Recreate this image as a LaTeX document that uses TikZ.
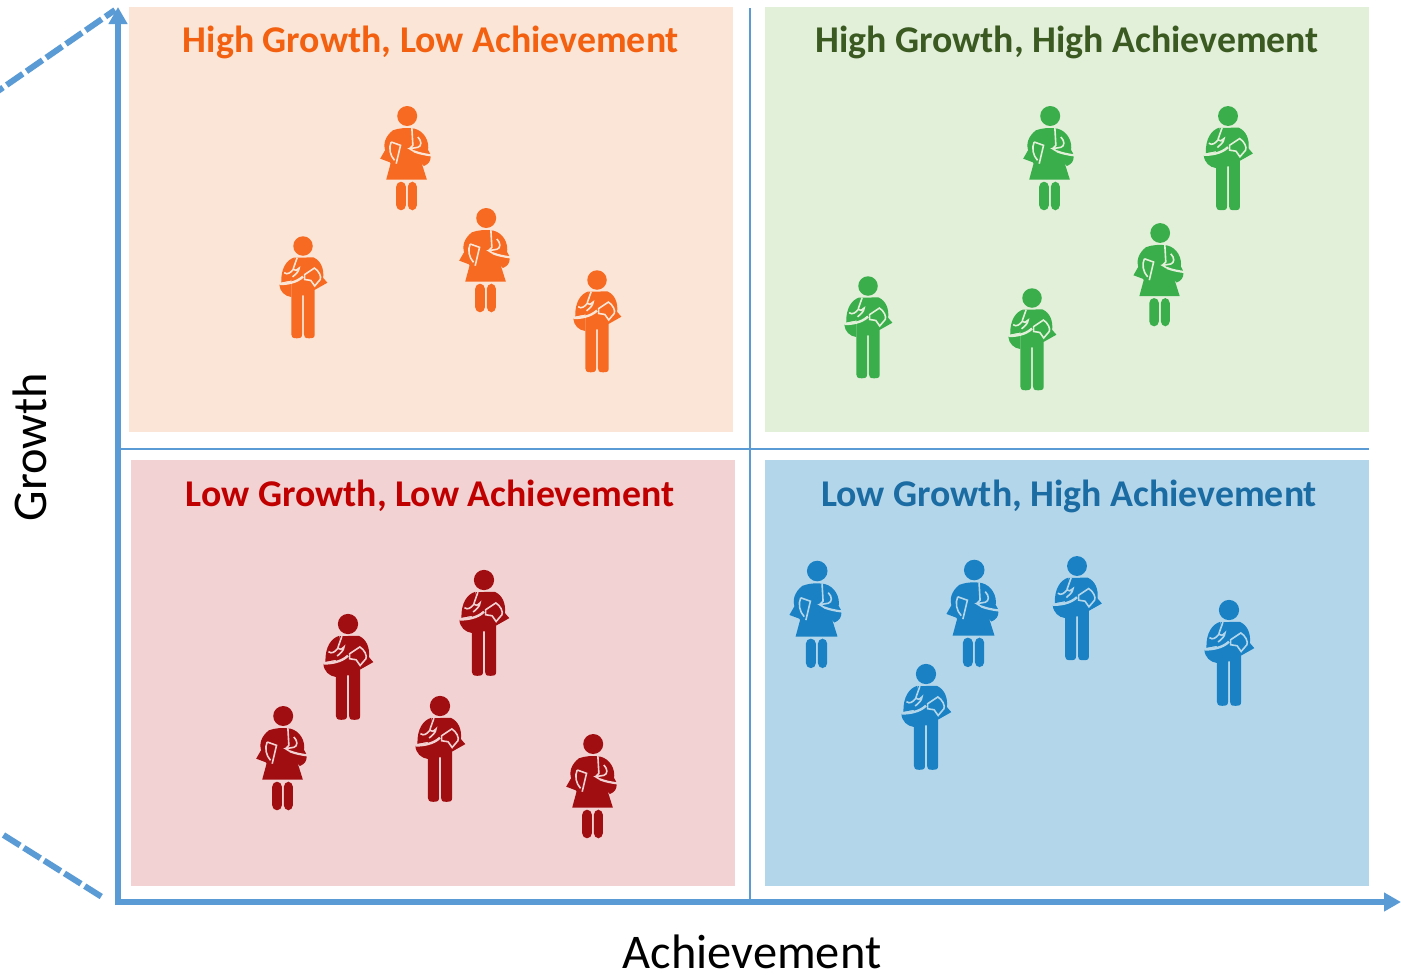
\documentclass[tikz,border=0pt]{standalone}
\usepackage{fontspec}
\setmainfont{Carlito}
\usetikzlibrary{arrows.meta}
\definecolor{axisblue}{HTML}{5B9BD5}
\definecolor{bgO}{HTML}{FBE5D6}\definecolor{bgG}{HTML}{E2EFD9}\definecolor{bgR}{HTML}{F2D2D2}\definecolor{bgB}{HTML}{B4D6EB}
\definecolor{figO}{HTML}{F66A21}\definecolor{figG}{HTML}{39AE4A}\definecolor{figR}{HTML}{A00E12}\definecolor{figB}{HTML}{1A82C4}
\definecolor{txtO}{HTML}{F26010}\definecolor{txtG}{HTML}{3B5A22}\definecolor{txtR}{HTML}{C00000}\definecolor{txtB}{HTML}{1B6CA3}
\tikzset{
  panel/.style={fill=#1,draw=none},
  title/.style={font=\fontsize{37.8}{38}\selectfont\bfseries,anchor=center,text=#1,inner sep=0pt},
  axislabel/.style={font=\fontsize{48.4}{48}\selectfont,text=black,inner sep=0pt},
  axisline/.style={draw=axisblue,line width=6pt,-{Triangle[length=17pt,width=18pt]}},
  gridline/.style={draw=axisblue,line width=1.5pt},
  flank/.style={draw=axisblue,line width=6pt,dash pattern=on 19.5pt off 4.5pt},
  pics/woman/.style 2 args={code={
    \begin{scope}[x=0.3333pt,y=-0.3333pt,xshift=1.2pt]
      \fill[#1] (0,0) circle[radius=30];
      % bag
      \fill[#1] (45,88) .. controls (78,105) and (78,140) .. (50,150) -- (30,130) -- cycle;
      % dress
      \fill[#1] (-43,43) .. controls (-25,36) and (0,34) .. (22,38) .. controls (50,45) and (68,75) .. (62,105)
        -- (36,118) -- (59,191) -- (-63,191) -- (-50,143) -- (-64,108) .. controls (-75,85) and (-65,60) .. (-43,43) -- cycle;
      % book
      \fill[#1] (-81,128) -- (-58,88) -- (-18,103) -- (-33,146) -- cycle;
      % outlines
      \draw[#2,line width=1.6pt] (14,36) -- (17,88) -- (7,98)
        (32,63) .. controls (44,75) and (44,90) .. (32,94) -- (7,98) -- (20,106)
        (-48,78) -- (-20,88) -- (-33,143)
        (-48,78) .. controls (-56,95) and (-52,118) .. (-38,133);
      \draw[#2,line width=2.2pt] (20,106) .. controls (35,112) and (55,116) .. (72,118);
      % legs
      \fill[#1,rounded corners=5pt] (-33,197) rectangle (-4,283);
      \fill[#1,rounded corners=5pt] (2,197) rectangle (29,283);
    \end{scope}}},
  pics/man/.style 2 args={code={
    \begin{scope}[x=0.3333pt,y=-0.3333pt]
      \fill[#1] (0,0) circle[radius=30];
      % bag
      \fill[#1] (-73,118) .. controls (-72,140) and (-55,155) .. (-36,157) -- (-36,110) -- cycle;
      % left sleeve
      \fill[#1] (-26,35) .. controls (-50,42) and (-68,68) .. (-67,112) -- (-36,106) -- (-20,70) -- cycle;
      % torso
      \fill[#1] (-24,36) -- (32,35) .. controls (55,45) and (65,70) .. (62,98) -- (75,113) -- (36,135) -- (36,272)
        .. controls (36,283) and (30,284) .. (18,284) .. controls (6,284) and (3,280) .. (3,272) -- (3,152) -- (-3,152) -- (-3,272)
        .. controls (-3,282) and (-8,284) .. (-20,284) .. controls (-32,284) and (-36,280) .. (-36,272) -- (-36,104) -- cycle;
      % outlines
      \draw[#2,line width=1.6pt] (-18,36) -- (-30,70)
        (-58,82) .. controls (-48,90) and (-38,82) .. (-30,72) .. controls (-25,78) and (-18,75) .. (-12,68) .. controls (-12,80) and (-25,88) .. (-32,95);
      \draw[#2,line width=1.6pt] (5,88) -- (35,68) .. controls (48,75) and (58,95) .. (53,103) -- (36,123) -- (24,106) -- (5,103) -- cycle;
      \draw[#2,line width=2.4pt] (-73,117) .. controls (-50,117) and (-20,113) .. (0,94);
    \end{scope}}}
}
\begin{document}
\begin{tikzpicture}[x=1pt,y=-1pt]
\useasboundingbox (0,0) rectangle (1401,975);
\fill[white] (0,0) rectangle (1401,975);
\path[panel=bgO] (129,7) rectangle (733,432);
\path[panel=bgG] (765,7) rectangle (1369,432);
\path[panel=bgR] (131,460) rectangle (735,886);
\path[panel=bgB] (765,460) rectangle (1369,886);

\node[title=txtO] (t1) at (431,42) {High Growth, Low Achievement};
\node[title=txtG] (t2) at (1067,42) {High Growth, High Achievement};
\node[title=txtR] (t3) at (430,496) {Low Growth, Low Achievement};
\node[title=txtB] (t4) at (1069,496) {Low Growth, High Achievement};

\coordinate (gt) at (750,8); \coordinate (gb) at (750,900);
\coordinate (gl) at (120,449); \coordinate (gr) at (1369,449);
\draw[gridline] (gt) -- (gb);
\draw[gridline] (gl) -- (gr);

\coordinate (origin) at (115,902); \coordinate (xend) at (1401,902);
\coordinate (ob) at (118,905); \coordinate (yend) at (118,7);

\coordinate (f1a) at (-13,98.6); \coordinate (f1b) at (115,10);
\coordinate (f2a) at (3.5,835); \coordinate (f2b) at (102,897);
\draw[flank] (f1a) -- (f1b);
\draw[flank] (f2a) -- (f2b);

\draw[axisline] (ob) -- (yend);
\draw[axisline] (origin) -- (xend);

\node[axislabel] (xl) at (752,952) {Achievement};
\node[axislabel,rotate=90] (yl) at (30,447) {Growth};

% orange
\pic[scale=1] at (406,116) {woman={figO}{bgO}};
\pic[scale=1] at (485,218) {woman={figO}{bgO}};
\pic[scale=.975] at (303,246) {man={figO}{bgO}};
\pic[scale=.975] at (597,280) {man={figO}{bgO}};
% green
\pic[scale=1] at (1049,116) {woman={figG}{bgG}};
\pic[scale=.99] at (1159,233) {woman={figG}{bgG}};
\pic[scale=.995] at (1228,116) {man={figG}{bgG}};
\pic[scale=.975] at (868,286) {man={figG}{bgG}};
\pic[scale=.975] at (1032,298) {man={figG}{bgG}};
% red
\pic[scale=1] at (282,716) {woman={figR}{bgR}};
\pic[scale=1] at (592,744) {woman={figR}{bgR}};
\pic[scale=1.012] at (484,580) {man={figR}{bgR}};
\pic[scale=1.012] at (348,624) {man={figR}{bgR}};
\pic[scale=1.012] at (440,706) {man={figR}{bgR}};
% blue
\pic[scale=1.03] at (816,571) {woman={figB}{bgB}};
\pic[scale=1.03] at (973,570) {woman={figB}{bgB}};
\pic[scale=.995] at (1077,566) {man={figB}{bgB}};
\pic[scale=1.012] at (926,674) {man={figB}{bgB}};
\pic[scale=1.012] at (1229,610) {man={figB}{bgB}};
\end{tikzpicture}
\end{document}
